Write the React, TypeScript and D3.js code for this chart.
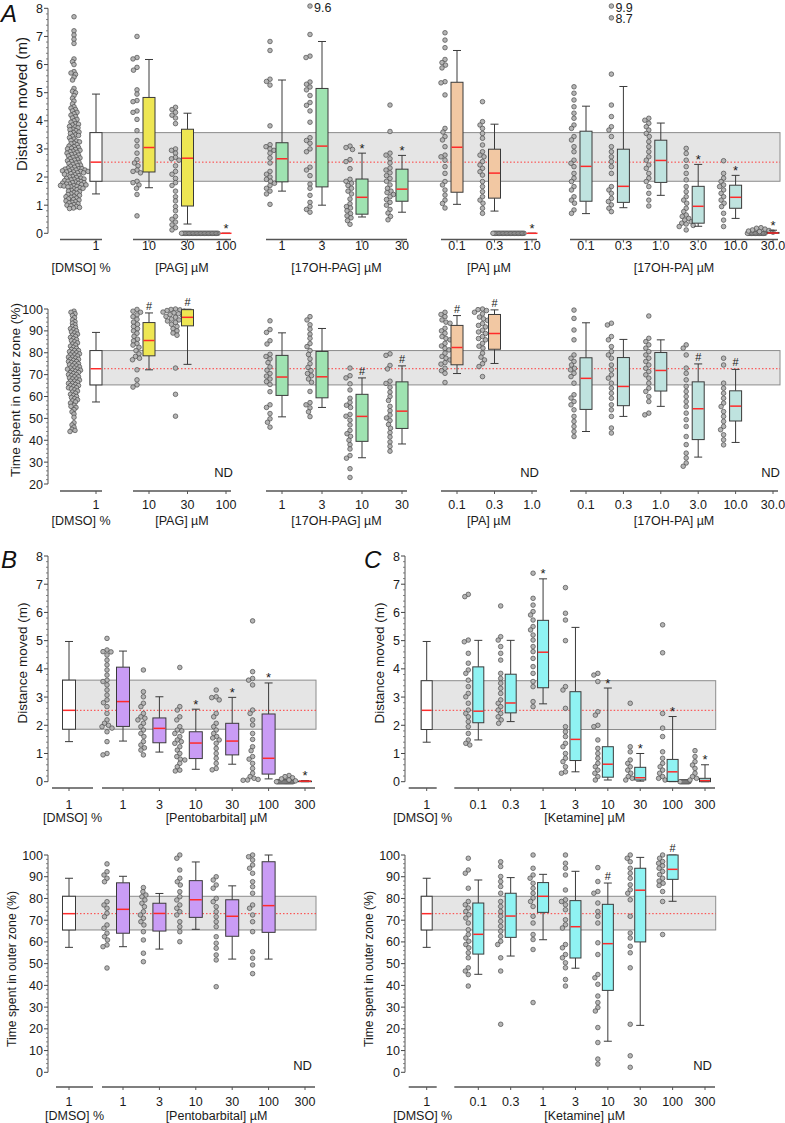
import React from "react";
import * as d3 from "d3";

const FONT = "'Liberation Sans', Arial, Helvetica, sans-serif";

// ======================= DATA =======================
// ---------- Panel A ----------
const A_DRUG_TITLES = ["[DMSO] %", "[PAG] µM", "[17OH-PAG] µM", "[PA] µM", "[17OH-PA] µM"];
const A_DRUG_TICKS = [["1"], ["10", "30", "100"], ["1", "3", "10", "30"], ["0.1", "0.3", "1.0"], ["0.1", "0.3", "1.0", "3.0", "10.0", "30.0"]];
const A_DRUG_COLORS = ["#ffffff", "#eee653", "#9fe3b1", "#f2c8a3", "#bfe3df"];

// [lower whisker, Q1, median, Q3, upper whisker]
const A_DIST_BOX: (number[] | null)[] = [
  [1.4, 1.85, 2.53, 3.58, 4.95],
  [1.62, 2.18, 3.05, 4.83, 6.18],
  [0.33, 0.97, 2.67, 3.7, 4.27],
  [0, 0, 0, 0, 0],
  [1.5, 1.83, 2.65, 3.22, 5.45],
  [1.0, 1.65, 3.1, 5.15, 6.82],
  [0.58, 0.68, 1.28, 1.93, 2.85],
  [0.75, 1.14, 1.57, 2.28, 2.77],
  [1.03, 1.46, 3.06, 5.37, 6.5],
  [0.79, 1.25, 2.14, 2.99, 3.88],
  [0, 0, 0, 0, 0],
  [0.7, 1.14, 2.38, 3.63, 4.52],
  [0.91, 1.1, 1.67, 2.99, 5.22],
  [1.35, 1.81, 2.59, 3.31, 3.92],
  [0.25, 0.36, 0.96, 1.67, 2.45],
  [0.53, 0.89, 1.28, 1.71, 2.06],
  [0, 0, 0.01, 0.03, 0.11],
];
const A_DIST_STARS = [3, 6, 7, 10, 14, 15, 16];

const A_DIST_DOTS: number[][] = [
  [7.7, 7.2, 7.05, 6.9, 6.75, 6.2, 6.1, 6.0, 5.75, 5.7, 5.65, 5.55, 5.45, 5.15, 5.05, 5.0, 4.9, 4.8, 4.7, 4.6,
    4.5, 4.45, 4.4, 4.35, 4.3, 4.25, 4.2, 4.15, 4.1, 4.05, 4.0, 3.95,
    3.9, 3.88, 3.85, 3.8, 3.78, 3.75, 3.7, 3.68, 3.65, 3.6, 3.58, 3.55, 3.5, 3.48, 3.45, 3.4, 3.35, 3.3, 3.28, 3.25, 3.2, 3.18, 3.15, 3.1, 3.08, 3.05, 3.02, 3.0,
    2.98, 2.95, 2.92, 2.9, 2.88, 2.85, 2.82, 2.8, 2.78, 2.75, 2.72, 2.7, 2.68, 2.65, 2.62, 2.6, 2.58, 2.55, 2.52, 2.5, 2.48, 2.45, 2.42, 2.4, 2.38, 2.35, 2.32, 2.3, 2.3, 2.28, 2.28, 2.25, 2.25, 2.22, 2.22, 2.2, 2.2, 2.18, 2.18, 2.15, 2.15, 2.12, 2.1, 2.08, 2.05, 2.02, 2.0,
    1.98, 1.96, 1.95, 1.93, 1.92, 1.9, 1.88, 1.87, 1.85, 1.84, 1.82, 1.8, 1.8, 1.78, 1.77, 1.75, 1.75, 1.73, 1.72, 1.7, 1.7, 1.68, 1.67, 1.65, 1.65, 1.62, 1.6, 1.58, 1.55, 1.52, 1.5, 1.48, 1.45, 1.42, 1.4, 1.38, 1.35, 1.32, 1.3, 1.28, 1.25, 1.22, 1.2, 1.18, 1.15, 1.12, 1.1, 1.08, 1.05, 1.02, 1.0, 0.98, 0.95, 0.92, 0.9, 0.88],
  [7.0, 6.25, 6.2, 5.9, 5.8, 5.1, 4.95, 4.72, 4.68, 4.35, 4.3, 4.05, 3.65, 3.3, 3.1, 2.85, 2.62, 2.5, 2.4, 2.25, 2.2, 2.15, 1.85, 1.8, 1.72, 1.6, 1.38, 0.62],
  [4.48, 4.4, 4.3, 4.2, 4.1, 3.9, 3.0, 2.95, 2.85, 2.7, 2.65, 2.6, 2.4, 2.2, 2.1, 1.95, 1.8, 1.7, 1.5, 1.3, 1.15, 0.95, 0.8, 0.6, 0.5, 0.4, 0.3, 0.2, 0.12],
  [0, 0, 0, 0, 0, 0, 0, 0, 0, 0, 0, 0, 0, 0, 0, 0, 0, 0, 0, 0, 0, 0, 0, 0, 0, 0, 0, 0],
  [6.82, 6.5, 5.48, 5.4, 5.27, 3.82, 3.15, 3.08, 3.0, 2.95, 2.85, 2.68, 2.5, 2.2, 2.1, 2.0, 1.92, 1.85, 1.78, 1.7, 1.6, 1.5, 1.4, 1.03],
  [7.07, 6.3, 6.25, 5.38, 5.3, 5.2, 5.1, 4.9, 4.65, 4.55, 4.35, 3.95, 3.4, 3.3, 3.2, 3.0, 2.9, 2.35, 2.25, 2.05, 1.75, 1.6, 1.35, 1.1, 0.95, 0.85, 0.75],
  [3.1, 3.05, 2.98, 2.62, 2.55, 2.3, 1.92, 1.85, 1.78, 1.7, 1.6, 1.5, 1.4, 1.22, 1.05, 0.95, 0.9, 0.8, 0.7, 0.62, 0.55, 0.45, 0.32],
  [4.56, 3.62, 2.85, 2.78, 2.65, 2.5, 2.32, 2.25, 2.15, 2.05, 1.95, 1.85, 1.72, 1.6, 1.5, 1.45, 1.38, 1.3, 1.2, 1.1, 1.0, 0.85, 0.72, 0.6, 0.48],
  [7.13, 6.87, 6.6, 6.18, 6.07, 5.98, 5.88, 5.39, 5.35, 4.92, 3.73, 3.6, 3.44, 3.32, 3.08, 2.78, 2.72, 2.6, 2.37, 2.13, 1.84, 1.72, 1.54, 1.36, 1.18, 1.06, 0.9],
  [4.68, 3.97, 3.85, 3.73, 3.55, 3.38, 3.14, 2.9, 2.78, 2.72, 2.55, 2.43, 2.31, 2.19, 2.07, 1.84, 1.66, 1.48, 1.3, 1.18, 1.07, 0.89, 0.71],
  [0, 0, 0, 0, 0, 0, 0, 0, 0, 0, 0, 0, 0, 0, 0, 0, 0, 0, 0, 0, 0, 0, 0, 0],
  [5.21, 4.98, 4.74, 4.5, 4.27, 4.09, 3.85, 3.73, 3.44, 3.32, 3.08, 2.9, 2.6, 2.49, 2.37, 2.13, 1.96, 1.84, 1.66, 1.54, 1.3, 1.18, 1.07, 0.83, 0.71],
  [5.66, 4.56, 4.15, 3.79, 3.67, 3.44, 3.08, 2.9, 2.72, 2.55, 2.37, 2.13, 1.66, 1.54, 1.42, 1.24, 1.13, 1.01, 0.89, 0.77],
  [4.09, 4.02, 3.91, 3.79, 3.67, 3.55, 3.44, 3.26, 3.08, 2.9, 2.72, 2.6, 2.43, 2.31, 2.13, 1.96, 1.84, 1.66, 1.42, 1.18, 0.97],
  [3.02, 2.84, 2.6, 2.37, 2.13, 1.9, 1.66, 1.48, 1.3, 1.18, 1.07, 0.89, 0.77, 0.65, 0.6, 0.53, 0.47, 0.41, 0.36, 0.33, 0.28, 0.24, 0.12],
  [2.58, 2.13, 1.96, 1.84, 1.72, 1.66, 1.54, 1.42, 1.3, 1.18, 1.07, 0.95, 0.71, 0.47, 0.24],
  [0, 0, 0, 0, 0, 0, 0, 0, 0, 0, 0, 0, 0, 0, 0.04, 0.06, 0.08, 0.1, 0.12, 0.15, 0.18, 0.2],
];
// off-scale values: group, real value, drawn at
const A_DIST_OUT_GROUP = [5, 12, 12];
const A_DIST_OUT_VALUE = [9.6, 9.9, 8.7];
const A_DIST_OUT_SHOWN = [8.08, 8.08, 7.66];

const A_TIME_BOX: (number[] | null)[] = [
  [57.5, 65.3, 72.7, 81, 89.3],
  [72.2, 78.6, 85.6, 93.8, 98.2],
  [74.7, 92.3, 96.2, 99.7, 99.9],
  null,
  [50.7, 60.5, 68.9, 78.8, 89.1],
  [55, 59.4, 69, 80.6, 91.1],
  [32, 39.5, 50.9, 61, 68.5],
  [38.3, 45.4, 53.3, 66.7, 74],
  [70.5, 74.5, 82.4, 92.5, 97],
  [75.1, 81.6, 88.8, 97.5, 99.6],
  null,
  [44, 54.1, 68.3, 77.7, 93.7],
  [50.9, 55.8, 64.6, 77.8, 86.1],
  [55.5, 62.5, 71.9, 80.1, 85.9],
  [32.3, 40.3, 54.4, 66.7, 74.9],
  [39, 48.8, 55.6, 62.6, 72.4],
  null,
];
const A_TIME_HASH = [1, 2, 6, 7, 8, 9, 14, 15];
const A_TIME_ND = [3, 10, 16];
const A_TIME_DOTS: number[][] = [
  [99, 98.5, 97.8, 97, 96, 95, 94.2, 93.5, 92.8, 92, 91.5, 91, 90.5, 90, 89.5, 89, 88.5, 88, 87.5, 87, 86.5, 86, 85.5, 85, 84.5, 84, 83.5, 83, 82.5, 82, 81.5, 81, 81, 80.5, 80, 80, 79.5, 79, 79, 78.5, 78, 78, 77.5, 77, 77, 76.5, 76, 76, 75.5, 75, 75, 74.5, 74, 74, 73.5, 73, 73, 72.5, 72.5, 72, 72, 71.5, 71, 71, 70.5, 70, 70, 69.5, 69, 69, 68.5, 68, 68, 67.5, 67, 67, 66.5, 66, 66, 65.5, 65, 65, 64.5, 64, 64, 63.5, 63, 62.5, 62, 61.5, 61, 60.5, 60, 59.5, 59, 58.5, 58, 57.5, 57, 56, 55.5, 55, 54, 53, 52, 50.5, 48, 47, 46, 45, 44.5, 44],
  [99.8, 99, 98.5, 97.3, 96.5, 95.3, 94, 93, 92, 91, 90, 88.9, 87.5, 86.2, 85.4, 84.2, 83.5, 82.5, 81, 79.5, 78.3, 77.5, 76.8, 72.2, 67.6, 65.3, 64.3],
  [100, 99.8, 99.6, 99.3, 99, 98.6, 98.2, 97.8, 97.4, 97, 96.6, 96.2, 95.8, 95.4, 95, 94.5, 93.8, 93, 92, 91, 90, 89, 88, 73, 61, 51],
  [],
  [94.6, 90.6, 89.3, 85.5, 84, 79.3, 78.3, 77.2, 75.5, 73.5, 72, 70.5, 69.3, 68, 66.8, 65.5, 62.2, 56.2, 55, 52.2, 49.8, 48.2, 46],
  [96.5, 95, 92.8, 90.8, 88.5, 86.6, 84.2, 82.8, 81, 79.2, 77.2, 75, 73.3, 71.8, 70.5, 69.5, 68, 66.5, 62.3, 57.2, 56.2, 54.8, 53, 50.8],
  [73, 69.5, 68.5, 65.8, 63, 59.2, 57.3, 56, 55, 51.8, 51, 49.2, 47, 44.5, 43, 41.8, 40, 38, 36, 33, 31.8, 27, 23],
  [79.5, 78.8, 74.2, 72.6, 67, 66, 64.2, 62, 60, 58.2, 55.5, 53.5, 51.5, 50.2, 49, 47.2, 45.5, 43.5, 41.5, 39.2, 37.2, 35],
  [98.5, 97.5, 96.5, 95, 94, 93.5, 91.2, 90, 88.9, 87.4, 86.5, 85.9, 84.3, 83.1, 82, 81.3, 79.8, 78.3, 77.5, 76.7, 75.5, 74.8, 72.9, 71.8, 70.6, 66.4],
  [100, 99.7, 99.3, 98.5, 97.8, 96.3, 95.5, 94.8, 93.3, 92.5, 91.8, 90.3, 89.5, 88.8, 87.4, 86.5, 85.9, 84.3, 83, 82.1, 79.8, 78, 76.7, 75, 73.7, 69.1],
  [],
  [99.5, 95.7, 90.4, 85.9, 79, 77.5, 76, 74.4, 72.9, 72.2, 70.6, 69.1, 66.1, 60.8, 59.3, 57.7, 56.2, 53.9, 50.9, 48.6, 46.3, 44, 41.7],
  [93.5, 92.7, 87.4, 85.9, 82.8, 80.5, 79, 77.5, 74.4, 72.2, 69.9, 68.4, 66.1, 63.8, 61.5, 59.2, 56.2, 53.9, 50.9, 45.6, 43.3],
  [96.8, 86.6, 85.1, 83.6, 82.1, 80.5, 79, 77.5, 76, 74.4, 72.9, 71.4, 69.9, 68.4, 66.1, 63.8, 62.3, 60, 57.7, 52.4, 51.6],
  [83.6, 82.1, 79, 73, 70.6, 67.6, 64.6, 62.3, 60, 57.7, 55.4, 52.4, 49.4, 46.3, 41.7, 38, 34.1, 31.9, 29.6, 28.1],
  [77.5, 74.4, 66.1, 63.8, 61.5, 59.2, 57, 55.4, 53.1, 50.9, 48.6, 46.3, 44.8, 42.5, 40.2, 37.9],
  [],
];

// ---------- Panel B ----------
const B_DRUG_TITLES = ["[DMSO] %", "[Pentobarbital] µM"];
const B_DRUG_TICKS = [["1"], ["1", "3", "10", "30", "100", "300"]];
const B_DRUG_COLORS = ["#ffffff", "#c99cf5"];
const B_DIST_BOX: (number[] | null)[] = [
  [1.42, 1.86, 2.53, 3.6, 4.97],
  [1.44, 1.96, 2.84, 4.06, 4.63],
  [1.05, 1.38, 1.89, 2.26, 3.01],
  [0.44, 0.82, 1.37, 1.77, 2.57],
  [0.62, 0.95, 1.44, 2.07, 2.99],
  [0.1, 0.27, 0.83, 2.4, 3.5],
  [0, 0, 0.02, 0.02, 0.04],
];
const B_DIST_STARS = [3, 4, 5, 6];
const B_DIST_DOTS: number[][] = [
  [],
  [5.08, 4.67, 4.61, 4.6, 4.49, 4.31, 4.14, 3.96, 3.78, 3.6, 3.55, 3.43, 3.25, 3.07, 2.9, 2.8, 2.66, 2.42, 2.19, 2.07, 2.0, 1.95, 1.9, 1.77, 1.42, 1.0, 0.95],
  [3.96, 3.19, 3.01, 2.78, 2.66, 2.42, 2.3, 2.25, 2.19, 2.07, 1.95, 1.83, 1.71, 1.6, 1.42, 1.3, 1.2, 1.12, 0.95],
  [4.05, 2.66, 2.54, 2.3, 2.19, 1.95, 1.83, 1.8, 1.71, 1.6, 1.48, 1.42, 1.36, 1.24, 1.12, 1.0, 0.89, 0.8, 0.77, 0.65, 0.53, 0.41, 0.38],
  [3.25, 3.01, 2.98, 2.9, 2.42, 2.3, 2.07, 1.95, 1.83, 1.71, 1.6, 1.55, 1.48, 1.36, 1.18, 1.0, 0.83, 0.65, 0.47, 0.42],
  [5.7, 3.9, 3.66, 3.6, 3.43, 2.54, 2.42, 2.19, 2.01, 1.71, 1.5, 1.24, 1.1, 0.89, 0.8, 0.65, 0.47, 0.3, 0.18, 0.12, 0.08, 0.06, 0.05],
  [0, 0, 0, 0, 0, 0, 0, 0, 0, 0, 0, 0, 0, 0, 0, 0, 0.03, 0.06, 0.1, 0.14, 0.18, 0.22],
];
const B_TIME_BOX: (number[] | null)[] = [
  [57.5, 65.5, 73, 81, 89.3],
  [57.8, 64, 75, 87.2, 90.2],
  [56.7, 65, 73.1, 77.8, 82.3],
  [65.8, 71.3, 79.4, 88.2, 96.8],
  [52.1, 62.6, 71.8, 79.4, 85.8],
  [52.1, 64.4, 76.7, 96.9, 100],
  null,
];
const B_TIME_ND = [6];
const B_TIME_DOTS: number[][] = [
  [],
  [95.9, 92.3, 90.8, 89.3, 87.7, 78.5, 77, 75.5, 73.2, 71.6, 67.8, 66.3, 64, 62.4, 60.9, 58.6, 57.8, 48],
  [85, 83.1, 81.6, 80.8, 79.3, 77.8, 76.2, 73.9, 72.4, 70.9, 69.3, 67.8, 64.7, 60.9, 54.8, 50.9],
  [100, 98.5, 93.1, 89.3, 87.7, 86.2, 83.1, 80.8, 79.3, 77, 75.5, 73.9, 72.4, 69.3, 67, 64.7, 60.1],
  [90, 88.5, 86.2, 84.7, 80, 78.5, 76.2, 73.9, 71.6, 69.3, 67, 62.4, 59.4, 57.1, 54, 51.7, 39.4],
  [100, 99.2, 97.7, 95.4, 93.9, 91.6, 87.7, 85.4, 82.4, 77, 75.5, 72.4, 69.3, 64.7, 55.5, 52.5, 49.4, 45.4],
  [],
];

// ---------- Panel C ----------
const C_DRUG_TITLES = ["[DMSO] %", "[Ketamine] µM"];
const C_DRUG_TICKS = [["1"], ["0.1", "0.3", "1", "3", "10", "30", "100", "300"]];
const C_DRUG_COLORS = ["#ffffff", "#8ff3f3"];
const C_DIST_BOX: (number[] | null)[] = [
  [1.4, 1.85, 2.53, 3.58, 4.97],
  [1.48, 2.09, 2.5, 4.07, 5.01],
  [2.13, 2.44, 2.79, 3.81, 5.01],
  [2.76, 3.33, 4.59, 5.72, 7.19],
  [0.35, 0.75, 1.5, 3.19, 5.47],
  [0.06, 0.16, 0.62, 1.24, 3.32],
  [0.02, 0.06, 0.14, 0.51, 1.0],
  [0, 0.01, 0.35, 0.79, 2.31],
  [0, 0, 0.04, 0.12, 0.6],
];
const C_DIST_STARS = [3, 5, 6, 7, 8];
const C_DIST_DOTS: number[][] = [
  [],
  [6.64, 6.56, 5.02, 4.96, 4.55, 4.2, 3.96, 3.84, 3.6, 3.37, 3.13, 3.01, 2.78, 2.54, 2.42, 2.3, 2.13, 1.95, 1.71, 1.48, 1.36, 1.3],
  [6.23, 5.14, 5.02, 4.79, 4.55, 4.31, 3.84, 3.66, 3.49, 3.31, 3.13, 2.9, 2.78, 2.66, 2.54, 2.42, 2.3, 2.19, 2.07],
  [7.39, 6.5, 6.26, 6.03, 5.91, 5.73, 5.5, 5.38, 5.2, 5.02, 4.79, 4.61, 4.37, 4.08, 3.84, 3.55, 3.37, 2.84, 2.66],
  [6.88, 5.97, 5.73, 5.0, 3.37, 3.25, 2.6, 1.95, 1.77, 1.6, 1.36, 1.24, 1.0, 0.83, 0.71, 0.53, 0.35, 0.3],
  [3.84, 3.78, 3.55, 2.48, 2.36, 2.0, 1.95, 1.48, 1.18, 1.0, 0.83, 0.65, 0.53, 0.41, 0.3, 0.18, 0.06],
  [2.78, 1.24, 1.06, 0.77, 0.65, 0.53, 0.41, 0.3, 0.18, 0.12, 0.06],
  [5.56, 4.57, 2.42, 1.9, 1.6, 1.06, 0.83, 0.65, 0.53, 0.41, 0.3, 0.18, 0.12, 0.06],
  [0, 0, 0, 0, 0, 0, 0, 0, 0, 0, 1.1, 0.89, 0.71, 0.59, 0.47, 0.3, 0.18, 0.12, 0.06],
];
const C_TIME_BOX: (number[] | null)[] = [
  [57.5, 65.5, 73, 81, 89.3],
  [45.1, 54.4, 63.5, 77.9, 88.5],
  [53.5, 62.1, 71.9, 82.4, 89.6],
  [61, 73.6, 81, 87.3, 91.1],
  [47.9, 52.6, 67, 79, 92.5],
  [14.3, 37.7, 59.2, 77.3, 87.1],
  [21.6, 60, 83.8, 93.9, 98.9],
  [78.7, 88.8, 93.4, 100, 100],
  null,
];
const C_TIME_HASH = [5, 7];
const C_TIME_ND = [8];
const C_TIME_DOTS: number[][] = [
  [],
  [98.5, 93.1, 91.6, 84.7, 78.6, 77.1, 75.6, 74, 72.5, 71, 68.7, 65.6, 63.4, 61.8, 60.3, 58.8, 57.3, 55, 52.7, 48.1, 46.6, 45, 39.7],
  [96.9, 94.7, 90.1, 87.8, 85.5, 82.4, 78.6, 76.3, 74, 71.8, 69.5, 67.2, 64.9, 62.6, 60.3, 58.8, 52.7, 46.6, 22.1],
  [100, 93.9, 90.8, 89.3, 87, 84.7, 82.4, 80.2, 78.6, 76.3, 71.8, 68.7, 63.4, 61.1, 56.5, 32.1],
  [100, 96.2, 93.9, 90.8, 83.9, 79.4, 78.6, 77.1, 74.8, 70.2, 67.9, 66.4, 58.8, 57.3, 54.2, 52.7, 50.4, 48.1, 42.7, 39.7],
  [94.2, 87.8, 83.2, 82.4, 77.9, 74, 71.8, 68.7, 59.6, 54.2, 45, 43.5, 40.5, 35.1, 32.1, 29.8, 28.2, 20.6, 13.7, 6.1, 3.8],
  [100, 98.5, 96.9, 93.9, 91.6, 89.3, 86.3, 84, 82.4, 79.4, 71.8, 64.1, 61.8, 58, 55, 48.1, 22.1, 7.6, 2.3],
  [100, 98.5, 97, 96.2, 95, 93.9, 92.4, 91, 89.3, 88, 87, 86, 83.2, 78.6, 63.4],
  [],
];

// ======================= LAYOUT =======================
interface PanelCfg {
  yDomain: [number, number];
  yRange: [number, number];
  yMajor: number;
  yMinor: number;
  axisX: number;
  yLabel: string;
  yLabelX: number;
  yLabelY: number;
  yLabelSize: number;
  drugTitles: string[];
  drugTicks: string[][];
  drugColors: string[];
  tickRanges: [number, number][];
  xAxisY: number;
  tickLabelY: number;
  titleY: number;
  segPadFirst: [number, number];
  segPad: [number, number];
  titleDx: number[];
  boxW: number;
  dotOff: number;
  dmsoDotOff: number;
  zeroStart: number;
  zeroStep: number;
  bandRight: number;
  boxes: (number[] | null)[];
  dots: number[][];
  stars: number[];
  hashes: number[];
  nd: number[];
  ndY: number;
  sep: number;
  dmsoSep: number;
  outliers?: { g: number[]; v: number[]; at: number[] };
}

const R = 2.3;

function swarm(vals: number[], y: (v: number) => number, r: number, sep: number) {
  const pts = vals.map((v) => ({ v, py: y(v), dx: 0 })).sort((a, b) => a.py - b.py);
  const placed: { py: number; dx: number }[] = [];
  const d = 2 * r * sep;
  for (const p of pts) {
    for (let k = 0; k < 400; k++) {
      const cand = (k % 2 === 1 ? -1 : 1) * Math.ceil(k / 2) * 0.5;
      let ok = true;
      for (const q of placed) {
        const dy = q.py - p.py;
        if (Math.abs(dy) >= d) continue;
        const dx = q.dx - cand;
        if (dx * dx + dy * dy < d * d) {
          ok = false;
          break;
        }
      }
      if (ok) {
        p.dx = cand;
        break;
      }
    }
    placed.push(p);
  }
  return pts;
}

function Panel({ cfg }: { cfg: PanelCfg }) {
  const y = d3.scaleLinear().domain(cfg.yDomain).range(cfg.yRange);
  const xs: number[] = [];
  const drugOf: number[] = [];
  cfg.drugTicks.forEach((ticks, di) => {
    const s = d3.scalePoint<string>().domain(ticks.map((t, i) => `${i}`)).range(cfg.tickRanges[di]).padding(0);
    ticks.forEach((t, i) => {
      const x = ticks.length === 1 ? cfg.tickRanges[di][0] : (s(`${i}`) as number);
      xs.push(x);
      drugOf.push(di);
    });
  });
  const tickLabels = cfg.drugTicks.flat();

  const [y0, y1] = cfg.yDomain;
  const majors = d3.range(y0, y1 + 1e-6, cfg.yMajor);
  const minors = d3
    .range(0, Math.round((y1 - y0) / cfg.yMinor) + 1)
    .map((i) => y0 + i * cfg.yMinor)
    .filter((v) => Math.abs(v / cfg.yMajor - Math.round(v / cfg.yMajor)) > 1e-6);

  const dmso = cfg.boxes[0] as number[];
  const bandLeft = xs[0] - cfg.boxW / 2;
  const stroke = "#3a3a3a";

  return (
    <g>
      {/* band */}
      <rect x={bandLeft} y={y(dmso[3])} width={cfg.bandRight - bandLeft} height={y(dmso[1]) - y(dmso[3])} fill="#e5e5e5" stroke="#8c8c8c" strokeWidth={1} />
      <line x1={bandLeft} x2={cfg.bandRight} y1={y(dmso[2])} y2={y(dmso[2])} stroke="#ff3b3b" strokeWidth={1} strokeDasharray="1.5,2" />

      {/* y axis */}
      <line x1={cfg.axisX} x2={cfg.axisX} y1={y(y0)} y2={y(y1)} stroke="#555" strokeWidth={1} />
      {majors.map((v) => (
        <g key={`M${v}`}>
          <line x1={cfg.axisX - 4} x2={cfg.axisX} y1={y(v)} y2={y(v)} stroke="#444" strokeWidth={1} />
          <text x={cfg.axisX - 5} y={y(v)} dy="0.36em" textAnchor="end" fontSize={12.5} fill="#1a1a1a">
            {d3.format("d")(v)}
          </text>
        </g>
      ))}
      {minors.map((v) => (
        <line key={`m${v}`} x1={cfg.axisX - 2} x2={cfg.axisX} y1={y(v)} y2={y(v)} stroke="#666" strokeWidth={0.8} />
      ))}
      <text
        transform={`translate(${cfg.yLabelX},${cfg.yLabelY}) rotate(-90)`}
        textAnchor="middle"
        fontSize={cfg.yLabelSize}
        fill="#1a1a1a"
      >
        {cfg.yLabel}
      </text>

      {/* x axis segments */}
      {cfg.drugTicks.map((ticks, di) => {
        const pad = di === 0 ? cfg.segPadFirst : cfg.segPad;
        const a = cfg.tickRanges[di][0] + pad[0];
        const b = cfg.tickRanges[di][1] + pad[1];
        return (
          <g key={`seg${di}`}>
            <line x1={a} x2={b} y1={cfg.xAxisY} y2={cfg.xAxisY} stroke="#555" strokeWidth={1.5} />
            <text x={(a + b) / 2 + (cfg.titleDx[di] || 0)} y={cfg.titleY} textAnchor="middle" fontSize={12.5} fill="#1a1a1a">
              {cfg.drugTitles[di]}
            </text>
          </g>
        );
      })}
      {xs.map((x, g) => (
        <g key={`xt${g}`}>
          <line x1={x} x2={x} y1={cfg.xAxisY} y2={cfg.xAxisY + 3} stroke="#555" strokeWidth={1} />
          <text x={x} y={cfg.tickLabelY} textAnchor="middle" fontSize={12.5} fill="#1a1a1a">
            {tickLabels[g]}
          </text>
        </g>
      ))}

      {/* dots */}
      {cfg.dots.map((vals, g) => {
        const cx = xs[g] + (g === 0 ? cfg.dmsoDotOff : cfg.dotOff);
        const nz = vals.filter((v) => v > 0);
        const zeros = vals.filter((v) => v <= 0);
        const sw = swarm(nz, y, R, g === 0 ? cfg.dmsoSep : cfg.sep);
        return (
          <g key={`d${g}`}>
            {zeros.map((v, i) => (
              <circle key={`z${i}`} cx={cx + cfg.zeroStart - i * cfg.zeroStep} cy={y(v)} r={R} fill="#b5b5b5" stroke="#4a4a4a" strokeWidth={0.7} />
            ))}
            {sw.map((p, i) => (
              <circle key={i} cx={cx + p.dx} cy={p.py} r={R} fill="#b5b5b5" stroke="#4a4a4a" strokeWidth={0.7} />
            ))}
          </g>
        );
      })}

      {/* outliers */}
      {cfg.outliers &&
        cfg.outliers.g.map((g, i) => {
          const cx = xs[g] + cfg.dotOff;
          const cy = y(cfg.outliers!.at[i]);
          return (
            <g key={`o${i}`}>
              <circle cx={cx} cy={cy} r={R} fill="#b5b5b5" stroke="#4a4a4a" strokeWidth={0.7} />
              <text x={cx + 4} y={cy + 5.5} fontSize={12.5} fill="#1a1a1a">
                {d3.format(".1f")(cfg.outliers!.v[i])}
              </text>
            </g>
          );
        })}

      {/* boxes */}
      {cfg.boxes.map((b, g) => {
        if (!b) return null;
        const x = xs[g];
        const w = cfg.boxW;
        const [lo, q1, med, q3, hi] = b;
        const fill = cfg.drugColors[drugOf[g]];
        return (
          <g key={`b${g}`}>
            <line x1={x} x2={x} y1={y(q3)} y2={y(hi)} stroke={stroke} strokeWidth={1} />
            <line x1={x} x2={x} y1={y(q1)} y2={y(lo)} stroke={stroke} strokeWidth={1} />
            <line x1={x - 4} x2={x + 4} y1={y(hi)} y2={y(hi)} stroke={stroke} strokeWidth={1} />
            <line x1={x - 4} x2={x + 4} y1={y(lo)} y2={y(lo)} stroke={stroke} strokeWidth={1} />
            <rect x={x - w / 2} y={y(q3)} width={w} height={Math.max(0, y(q1) - y(q3))} fill={fill} stroke={stroke} strokeWidth={1} />
            <line x1={x - w / 2 + 0.5} x2={x + w / 2 - 0.5} y1={y(med)} y2={y(med)} stroke="#ff2a2a" strokeWidth={1.5} />
          </g>
        );
      })}

      {/* significance marks */}
      {cfg.stars.map((g) => {
        const b = cfg.boxes[g] as number[];
        return (
          <text key={`s${g}`} x={xs[g]} y={y(b[4]) - 0.5} textAnchor="middle" fontSize={13} fill="#1a1a1a">
            *
          </text>
        );
      })}
      {cfg.hashes.map((g) => {
        const b = cfg.boxes[g] as number[];
        return (
          <text key={`h${g}`} x={xs[g]} y={y(b[4]) - 3} textAnchor="middle" fontSize={11} fill="#1a1a1a">
            #
          </text>
        );
      })}
      {cfg.nd.map((g) => (
        <text key={`nd${g}`} x={xs[g] + 7} y={cfg.ndY} textAnchor="end" fontSize={13} fill="#1a1a1a">
          ND
        </text>
      ))}
    </g>
  );
}

const A_TICK_RANGES: [number, number][] = [[96, 96], [149, 226], [282, 402], [457, 532], [586, 773]];
const B_TICK_RANGES: [number, number][] = [[69, 69], [123, 305]];
const C_TICK_RANGES: [number, number][] = [[426.7, 426.7], [478.3, 705]];

const aCommon = {
  axisX: 48,
  drugTitles: A_DRUG_TITLES,
  drugTicks: A_DRUG_TICKS,
  drugColors: A_DRUG_COLORS,
  tickRanges: A_TICK_RANGES,
  segPadFirst: [-36, 6] as [number, number],
  segPad: [-16, 5] as [number, number],
  titleDx: [0, 0, 0, 0, 0],
  boxW: 12,
  dotOff: -12,
  dmsoDotOff: -22,
  zeroStart: 4,
  zeroStep: 1.35,
  bandRight: 780,
  sep: 0.9,
  dmsoSep: 0.65,
};

const PANELS: PanelCfg[] = [
  {
    ...aCommon,
    yDomain: [0, 8], yRange: [233.3, 8.3], yMajor: 1, yMinor: 0.2,
    yLabel: "Distance moved (m)", yLabelX: 27, yLabelY: 104, yLabelSize: 15,
    xAxisY: 239.5, tickLabelY: 250, titleY: 272,
    boxes: A_DIST_BOX, dots: A_DIST_DOTS, stars: A_DIST_STARS, hashes: [], nd: [], ndY: 0,
    outliers: { g: A_DIST_OUT_GROUP, v: A_DIST_OUT_VALUE, at: A_DIST_OUT_SHOWN },
  },
  {
    ...aCommon,
    dmsoSep: 0.6,
    yDomain: [20, 100], yRange: [484, 309], yMajor: 10, yMinor: 2,
    yLabel: "Time spent in outer zone (%)", yLabelX: 20, yLabelY: 390, yLabelSize: 13.6,
    xAxisY: 491, tickLabelY: 509, titleY: 525,
    boxes: A_TIME_BOX, dots: A_TIME_DOTS, stars: [], hashes: A_TIME_HASH, nd: A_TIME_ND, ndY: 477,
  },
  {
    yDomain: [0, 8], yRange: [781.7, 556], yMajor: 1, yMinor: 0.2, axisX: 48,
    yLabel: "Distance moved (m)", yLabelX: 27, yLabelY: 663, yLabelSize: 13.5,
    drugTitles: B_DRUG_TITLES, drugTicks: B_DRUG_TICKS, drugColors: B_DRUG_COLORS, tickRanges: B_TICK_RANGES,
    xAxisY: 788, tickLabelY: 808.5, titleY: 821.5, segPadFirst: [-17, 24], segPad: [-21, 10], titleDx: [0, 8],
    boxW: 13, dotOff: -16, dmsoDotOff: -16, zeroStart: 4, zeroStep: 1.1, bandRight: 316,
    boxes: B_DIST_BOX, dots: B_DIST_DOTS, stars: B_DIST_STARS, hashes: [], nd: [], ndY: 0, sep: 0.9, dmsoSep: 0.9,
  },
  {
    yDomain: [0, 100], yRange: [1072.3, 855], yMajor: 10, yMinor: 2, axisX: 48,
    yLabel: "Time spent in outer zone (%)", yLabelX: 16, yLabelY: 969, yLabelSize: 12.2,
    drugTitles: B_DRUG_TITLES, drugTicks: B_DRUG_TICKS, drugColors: B_DRUG_COLORS, tickRanges: B_TICK_RANGES,
    xAxisY: 1087, tickLabelY: 1105.5, titleY: 1120, segPadFirst: [-13, 24], segPad: [-21, 10], titleDx: [0, 8],
    boxW: 13, dotOff: -16, dmsoDotOff: -16, zeroStart: 4, zeroStep: 1.1, bandRight: 316,
    boxes: B_TIME_BOX, dots: B_TIME_DOTS, stars: [], hashes: [], nd: B_TIME_ND, ndY: 1070, sep: 0.9, dmsoSep: 0.9,
  },
  {
    yDomain: [0, 8], yRange: [781.7, 556], yMajor: 1, yMinor: 0.2, axisX: 405,
    yLabel: "Distance moved (m)", yLabelX: 384, yLabelY: 663, yLabelSize: 13.5,
    drugTitles: C_DRUG_TITLES, drugTicks: C_DRUG_TICKS, drugColors: C_DRUG_COLORS, tickRanges: C_TICK_RANGES,
    xAxisY: 788, tickLabelY: 808.5, titleY: 821.5, segPadFirst: [-18, 10], segPad: [-24, 10], titleDx: [0, 0],
    boxW: 11, dotOff: -10, dmsoDotOff: -10, zeroStart: -6, zeroStep: 1.0, bandRight: 715.7,
    boxes: C_DIST_BOX, dots: C_DIST_DOTS, stars: C_DIST_STARS, hashes: [], nd: [], ndY: 0, sep: 0.9, dmsoSep: 0.9,
  },
  {
    yDomain: [0, 100], yRange: [1072.3, 855], yMajor: 10, yMinor: 2, axisX: 405,
    yLabel: "Time spent in outer zone (%)", yLabelX: 373, yLabelY: 969, yLabelSize: 12.2,
    drugTitles: C_DRUG_TITLES, drugTicks: C_DRUG_TICKS, drugColors: C_DRUG_COLORS, tickRanges: C_TICK_RANGES,
    xAxisY: 1087, tickLabelY: 1105.5, titleY: 1120, segPadFirst: [-18, 10], segPad: [-24, 10], titleDx: [0, 0],
    boxW: 11, dotOff: -10, dmsoDotOff: -10, zeroStart: -6, zeroStep: 1.0, bandRight: 715.7,
    boxes: C_TIME_BOX, dots: C_TIME_DOTS, stars: [], hashes: C_TIME_HASH, nd: C_TIME_ND, ndY: 1070, sep: 0.9, dmsoSep: 0.9,
  },
];

const LETTERS = ["A", "B", "C"];
const LETTER_POS: [number, number][] = [[1, 22], [1, 568], [364, 568]];

export default function App() {
  return (
    <svg
      width={785}
      height={1123}
      viewBox="0 0 785 1123"
      style={{ position: "absolute", left: 0, top: 0, background: "#ffffff" }}
      fontFamily={FONT}
    >
      <rect x={0} y={0} width={785} height={1123} fill="#ffffff" />
      {PANELS.map((p, i) => (
        <Panel key={i} cfg={p} />
      ))}
      {LETTERS.map((l, i) => (
        <text key={l} x={LETTER_POS[i][0]} y={LETTER_POS[i][1]} fontSize={24} fontStyle="italic" fill="#111">
          {l}
        </text>
      ))}
    </svg>
  );
}
